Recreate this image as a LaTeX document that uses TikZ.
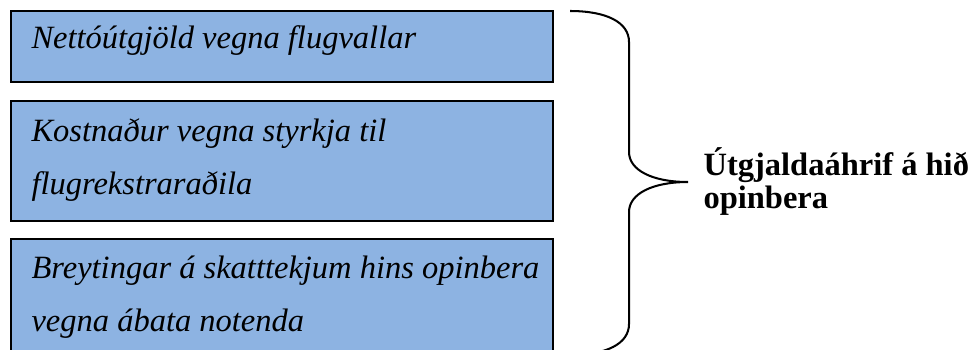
\documentclass[tikz,border=0pt]{standalone}
\usepackage{fontspec}
\setmainfont{Liberation Serif}
\definecolor{boxblue}{HTML}{8DB3E2}
\newcommand\pxu{0.3692pt}
\begin{document}
\begin{tikzpicture}[x=0.3692pt,y=-0.3692pt,
  itembox/.style={draw=black, line width=0.6pt, fill=boxblue, inner sep=0pt, anchor=north west, minimum width=542*\pxu},
  itemtext/.style={anchor=base west, inner sep=0pt, font=\fontsize{12}{19.9}\selectfont\itshape},
  bracepath/.style={draw=black, line width=0.75pt},
  sumtext/.style={anchor=base west, inner sep=0pt, font=\fontsize{12}{12.2}\selectfont\bfseries}]
\clip (0,0) rectangle (976,349);
\fill[white] (0,0) rectangle (976,349);
% boxes
\node[itembox, minimum height=71*\pxu] (b1) at (10,10) {};
\node[itembox, minimum height=120*\pxu] (b2) at (10,100) {};
\node[itembox, minimum height=130*\pxu] (b3) at (10,238) {};
% box texts
\node[itemtext] (t1) at (31,48) {Nettóútgjöld vegna flugvallar};
\node[itemtext] (t2) at (31,141) {\parbox[t]{220pt}{Kostnaður vegna styrkja til\\flugrekstraraðila}};
\node[itemtext] (t3) at (31,278) {\parbox[t]{220pt}{Breytingar á skatttekjum hins opinbera\\vegna ábata notenda}};
% brace
\coordinate (tip) at (688,182);
\draw[bracepath] (570,11) .. controls (606,11) and (629,22) .. (629,42)
  -- (629,152) .. controls (629,170) and (652,182) .. (tip)
  .. controls (652,182) and (629,194) .. (629,212)
  -- (629,324) .. controls (629,344) and (606,355) .. (570,355);
% summary text
\node[sumtext] (s) at (703,175) {\parbox[t]{150pt}{Útgjaldaáhrif á hið\\opinbera}};
\end{tikzpicture}
\end{document}
